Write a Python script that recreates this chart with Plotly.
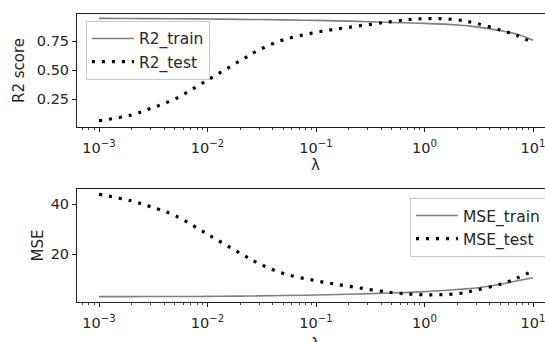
import plotly.graph_objects as go
from plotly.subplots import make_subplots

lam = [0.001, 0.002, 0.003, 0.005, 0.01, 0.02, 0.03, 0.05, 0.1, 0.2, 0.5, 1, 2, 3, 5, 7, 10]
r2_train = [0.945, 0.944, 0.943, 0.942, 0.940, 0.937, 0.935, 0.932, 0.928, 0.922, 0.910, 0.902, 0.888, 0.872, 0.840, 0.810, 0.757]
r2_test = [0.063, 0.113, 0.170, 0.250, 0.414, 0.580, 0.675, 0.760, 0.825, 0.868, 0.918, 0.943, 0.933, 0.902, 0.845, 0.800, 0.735]
mse_train = [3.04, 3.06, 3.08, 3.10, 3.15, 3.25, 3.35, 3.50, 3.70, 4.00, 4.50, 5.05, 5.90, 6.50, 8.00, 9.30, 10.6]
mse_test = [44.0, 41.3, 39.0, 35.5, 28.0, 20.4, 16.2, 12.3, 9.4, 7.2, 4.7, 3.8, 4.2, 5.7, 8.0, 10.3, 13.4]

x_tickvals = [0.001, 0.01, 0.1, 1, 10]
x_ticktext = ["10<sup>\u22123</sup>", "10<sup>\u22122</sup>", "10<sup>\u22121</sup>", "10<sup>0</sup>", "10<sup>1</sup>"]
minor_vals = [m * d for d in (0.0001, 0.001, 0.01, 0.1, 1, 10) for m in range(2, 10)]

FONT = "DejaVu Sans"
TXT = "#262626"
fig = make_subplots(rows=2, cols=1)

train_line = dict(color="#808080", width=1.6, shape="spline")
test_line = dict(color="black", width=3.2, dash="3px,7px", shape="spline")

fig.add_trace(go.Scatter(x=lam, y=r2_train, mode="lines", name="R2_train", line=train_line, legend="legend"), row=1, col=1)
fig.add_trace(go.Scatter(x=lam, y=r2_test, mode="lines", name="R2_test", line=test_line, legend="legend"), row=1, col=1)
fig.add_trace(go.Scatter(x=lam, y=mse_train, mode="lines", name="MSE_train", line=train_line, legend="legend2"), row=2, col=1)
fig.add_trace(go.Scatter(x=lam, y=mse_test, mode="lines", name="MSE_test", line=test_line, legend="legend2"), row=2, col=1)

axis_common = dict(showline=True, linecolor="#222", linewidth=1, ticks="outside", ticklen=4, tickcolor="#222",
                   showgrid=False, zeroline=False, automargin=False,
                   tickfont=dict(family=FONT, size=14.5, color=TXT))

for r in (1, 2):
    fig.update_xaxes(type="log", range=[-3.203, 1.11], tickvals=x_tickvals, ticktext=x_ticktext, mirror=True,
                     ticklabeloverflow="allow", ticklabelstandoff=4,
                     minor=dict(ticks="outside", ticklen=2, tickcolor="#444", tickwidth=0.8, showgrid=False,
                                tickvals=minor_vals),
                     row=r, col=1, **axis_common)

fig.update_yaxes(range=[0.009, 0.983], tickvals=[0.25, 0.5, 0.75], ticktext=["0.25", "0.50", "0.75"],
                 title=dict(text="R2 score", font=dict(family=FONT, size=15, color=TXT), standoff=8),
                 row=1, col=1, **axis_common)
fig.update_yaxes(range=[0.9, 46.1], tickvals=[20, 40], ticktext=["20", "40"],
                 title=dict(text="MSE", font=dict(family=FONT, size=15, color=TXT), standoff=3),
                 row=2, col=1, **axis_common)

legend_common = dict(xanchor="left", yanchor="top", bgcolor="rgba(255,255,255,0.8)", itemwidth=42,
                     bordercolor="#cccccc", borderwidth=1, font=dict(family=FONT, size=15.5, color=TXT))

x_label = "\u03bb"
for ytop in (0.5468, 0.0234):
    fig.add_annotation(text=x_label, xref="paper", yref="paper", x=0.51, y=ytop, xanchor="center",
                       yanchor="top", showarrow=False, borderpad=0,
                       font=dict(family=FONT, size=15, color=TXT))

fig.update_layout(
    width=545, height=342,
    margin=dict(l=77, r=0, t=0, b=0, autoexpand=False),
    plot_bgcolor="white", paper_bgcolor="white",
    xaxis=dict(domain=[0, 1]), xaxis2=dict(domain=[0, 1]),
    yaxis=dict(domain=[0.62865, 0.95906]), yaxis2=dict(domain=[0.11696, 0.44737]),
    legend=dict(x=0.019, y=0.939, **legend_common),
    legend2=dict(x=0.7115, y=0.4211, **legend_common),
    font=dict(family=FONT, size=14, color=TXT),
)

fig.write_html("out.html", config={"displayModeBar": False},
               post_script="document.body.style.margin='0px';")
